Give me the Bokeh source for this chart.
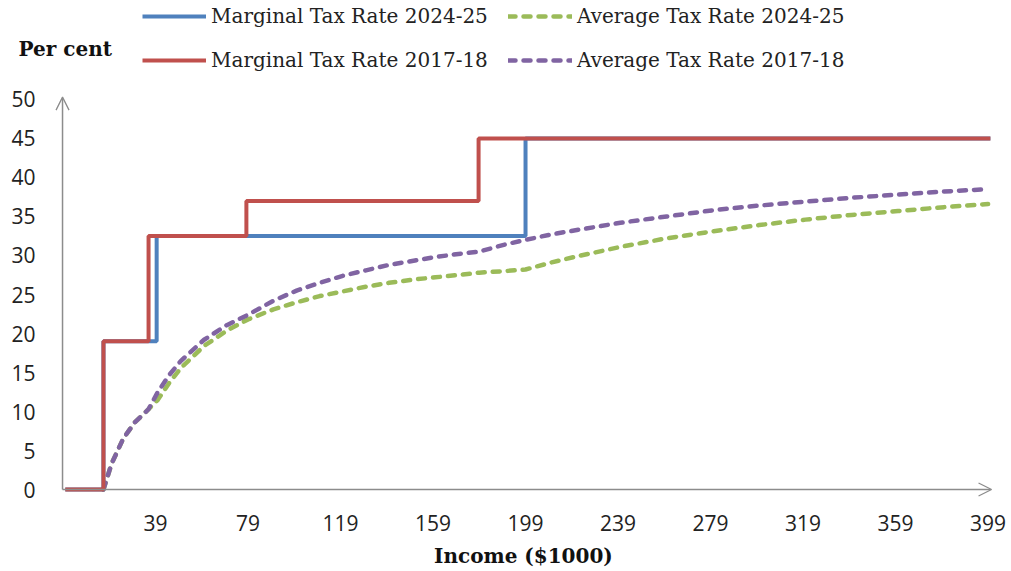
from bokeh.plotting import figure
from bokeh.models import Legend, LegendItem, Label, Arrow, OpenHead
from bokeh.core.properties import value
from bokeh.embed import file_html
from bokeh.resources import INLINE

# ---- data (income in $1000, rates in per cent) ----
mtr_2024_income = [0, 16.5, 39.5, 199, 400]
mtr_2024_rate = [0, 19, 32.5, 45, 45]

mtr_2017_income = [0, 16.5, 36, 78.3, 178.7, 400]
mtr_2017_rate = [0, 19, 32.5, 37, 45, 45]

atr_income = [16.5, 20, 25, 30, 36, 40, 45, 50, 60, 70, 79, 90, 100, 110, 120, 130, 140, 150,
              160, 170, 179, 190, 199, 210, 220, 240, 260, 280, 300, 320, 340, 360, 380, 399]
atr_2017 = [0, 3.3, 6.5, 8.6, 10.3, 12.5, 14.7, 16.5, 19.2, 21.1, 22.4, 24.2, 25.5, 26.5, 27.4,
            28.1, 28.8, 29.3, 29.8, 30.2, 30.5, 31.4, 32.0, 32.7, 33.2, 34.2, 35.0, 35.8, 36.4,
            36.9, 37.4, 37.8, 38.2, 38.5]
atr_2024 = [0, 3.3, 6.5, 8.6, 10.3, 11.5, 13.7, 15.6, 18.4, 20.4, 21.8, 23.1, 24.0, 24.8, 25.4,
            26.0, 26.5, 26.9, 27.2, 27.5, 27.8, 28.0, 28.2, 29.1, 29.8, 31.1, 32.2, 33.1, 33.9,
            34.6, 35.2, 35.7, 36.2, 36.6]

x_ticks = [39, 79, 119, 159, 199, 239, 279, 319, 359, 399]
y_ticks = [0, 5, 10, 15, 20, 25, 30, 35, 40, 45, 50]

BLUE = "#4F81BD"
RED = "#C0504D"
GREEN = "#9BBB59"
PURPLE = "#8064A2"
AXIS = "#8C8C8C"
TXT = "#222222"

W, H = 1011, 571
p = figure(width=W, height=H, output_backend="svg", toolbar_location=None,
           x_range=(-28.02, 409.13), y_range=(-10.51, 62.69),
           x_axis_type=None, y_axis_type=None, min_border=0)
p.outline_line_color = None
p.background_fill_color = "white"

# axes with arrows
p.add_layout(Arrow(end=OpenHead(size=13, line_color=AXIS, line_width=1.3),
                   x_start=-1.2, y_start=0, x_end=-1.2, y_end=50.3,
                   line_color=AXIS, line_width=1.5))
p.add_layout(Arrow(end=OpenHead(size=13, line_color=AXIS, line_width=1.3),
                   x_start=-1.2, y_start=0, x_end=400.5, y_end=0,
                   line_color=AXIS, line_width=1.5))

# tick labels
p.text(x=x_ticks, y=[-4.3] * len(x_ticks), text=[str(t) for t in x_ticks],
       text_font=value("Open Sans"), text_font_size="21px", text_color=TXT,
       text_align="center", text_baseline="middle")
p.text(x=[-12.9] * len(y_ticks), y=y_ticks, text=[str(t) for t in y_ticks],
       text_font=value("Open Sans"), text_font_size="21px", text_color=TXT,
       text_align="right", text_baseline="middle")

r_atr24 = p.line(atr_income, atr_2024, line_color=GREEN, line_width=4.5,
                 line_dash="7 8", line_cap="round")
r_atr17 = p.line(atr_income, atr_2017, line_color=PURPLE, line_width=4.5,
                 line_dash="7 8", line_cap="round")
r_mtr24 = p.step(mtr_2024_income, mtr_2024_rate, mode="after", line_color=BLUE, line_width=4)
r_mtr17 = p.step(mtr_2017_income, mtr_2017_rate, mode="after", line_color=RED, line_width=4)


def make_legend(label, renderer, x, y):
    lg = Legend(items=[LegendItem(label=label, renderers=[renderer])],
                location=(x, y), orientation="horizontal",
                padding=0, margin=0, spacing=0,
                glyph_width=64, glyph_height=20, label_height=20, label_standoff=5,
                label_text_font="DejaVu Serif", label_text_font_size="20px",
                label_text_color=TXT,
                border_line_color=None, background_fill_alpha=0)
    p.add_layout(lg, "center")


make_legend("Marginal Tax Rate 2024-25", r_mtr24, 142, 543)
make_legend("Average Tax Rate 2024-25", r_atr24, 508, 543)
make_legend("Marginal Tax Rate 2017-18", r_mtr17, 142, 499)
make_legend("Average Tax Rate 2017-18", r_atr17, 508, 499)

p.add_layout(Label(x=-20.2, y=56.5, text="Per cent", text_font="DejaVu Serif",
                   text_font_style="bold", text_font_size="20px", text_color="#111111",
                   text_align="left", text_baseline="middle"))
p.add_layout(Label(x=198.1, y=-8.5, text="Income ($1000)", text_font="DejaVu Serif",
                   text_font_style="bold", text_font_size="20px", text_color="#111111",
                   text_align="center", text_baseline="middle"))

open("out.html", "w").write(file_html(p, INLINE))
